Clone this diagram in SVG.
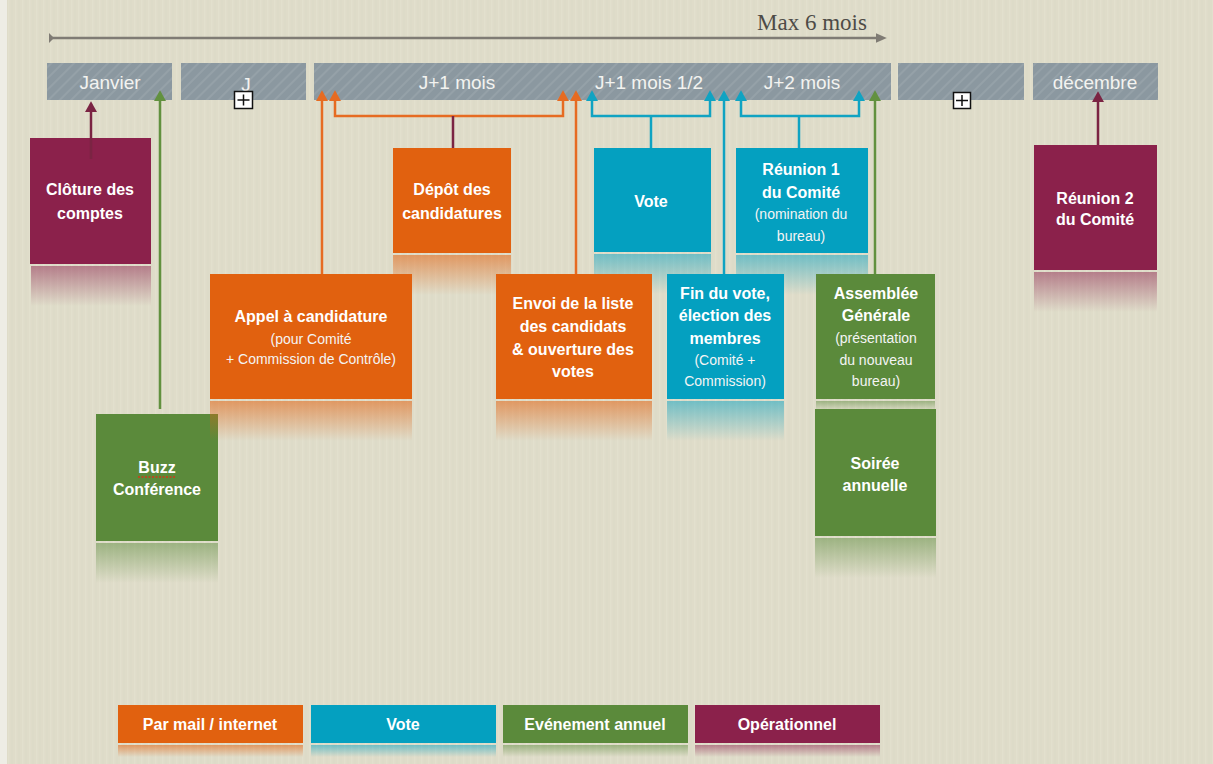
<svg xmlns="http://www.w3.org/2000/svg" width="1213" height="764" viewBox="0 0 1213 764">
<style>
.bar{fill:url(#hatch)}
.bt{font-family:"Liberation Sans",Arial,sans-serif;font-size:19px;fill:#f3f3f0;text-anchor:middle}
.tb{font-family:"Liberation Sans",Arial,sans-serif;font-size:16px;font-weight:bold;fill:#ffffff;text-anchor:middle}
.tr{font-family:"Liberation Sans",Arial,sans-serif;font-size:14px;fill:#f4f4f4;text-anchor:middle}
.or{fill:#e1610f}.bl{fill:#04a0c0}.gr{fill:#5b8a3b}.ma{fill:#8b214b}
.c{fill:none;stroke-width:2.5}
.co{stroke:#e66b22}.cb{stroke:#10a3c2}.cg{stroke:#62913f}.cm{stroke:#7b2443}
</style>
<defs>
<pattern id="tex" width="7" height="40" patternUnits="userSpaceOnUse">
<rect width="7" height="40" fill="#dfdcc9"/>
<rect x="1" width="1.5" height="40" fill="#e4e1cf" opacity="0.7"/>
<rect x="4.5" width="1" height="40" fill="#d8d5c1" opacity="0.5"/>
</pattern>
<pattern id="hatch" width="8" height="8" patternUnits="userSpaceOnUse" patternTransform="rotate(45)">
<rect width="8" height="8" fill="#8b98a0"/>
<rect width="2" height="8" fill="#95a1a8"/>
</pattern>
<linearGradient id="rO" x1="0" y1="0" x2="0" y2="1"><stop offset="0" stop-color="#e1610f" stop-opacity="0.55"/><stop offset="1" stop-color="#e1610f" stop-opacity="0"/></linearGradient>
<linearGradient id="rB" x1="0" y1="0" x2="0" y2="1"><stop offset="0" stop-color="#04a0c0" stop-opacity="0.5"/><stop offset="1" stop-color="#04a0c0" stop-opacity="0"/></linearGradient>
<linearGradient id="rG" x1="0" y1="0" x2="0" y2="1"><stop offset="0" stop-color="#5b8a3b" stop-opacity="0.5"/><stop offset="1" stop-color="#5b8a3b" stop-opacity="0"/></linearGradient>
<linearGradient id="rM" x1="0" y1="0" x2="0" y2="1"><stop offset="0" stop-color="#8b214b" stop-opacity="0.5"/><stop offset="1" stop-color="#8b214b" stop-opacity="0"/></linearGradient>
<marker id="aO" markerWidth="12" markerHeight="12" refX="0" refY="5" orient="auto-start-reverse" markerUnits="userSpaceOnUse" viewBox="0 0 10 10"><path d="M0,0 L9,5 L0,10 z" fill="#e66b22"/></marker>
<marker id="aB" markerWidth="12" markerHeight="12" refX="0" refY="5" orient="auto-start-reverse" markerUnits="userSpaceOnUse" viewBox="0 0 10 10"><path d="M0,0 L9,5 L0,10 z" fill="#10a3c2"/></marker>
<marker id="aG" markerWidth="12" markerHeight="12" refX="0" refY="5" orient="auto-start-reverse" markerUnits="userSpaceOnUse" viewBox="0 0 10 10"><path d="M0,0 L9,5 L0,10 z" fill="#62913f"/></marker>
<marker id="aM" markerWidth="12" markerHeight="12" refX="0" refY="5" orient="auto-start-reverse" markerUnits="userSpaceOnUse" viewBox="0 0 10 10"><path d="M0,0 L9,5 L0,10 z" fill="#7b2443"/></marker>
<marker id="aT" markerWidth="12" markerHeight="12" refX="0" refY="5" orient="auto" markerUnits="userSpaceOnUse" viewBox="0 0 10 10"><path d="M0,1 L9,5 L0,9 z" fill="#7f7b74"/></marker>
</defs>

<rect width="1213" height="764" fill="url(#tex)"/>
<rect width="7" height="764" fill="#eeede5"/>

<!-- timeline -->
<g id="timeline">
<line x1="51" y1="38" x2="876" y2="38" stroke="#7f7b74" stroke-width="2.5" marker-end="url(#aT)"/>
<path d="M49,33 L54,38 L49,43 z" fill="#7f7b74"/>
<text x="812" y="30" font-family="'Liberation Serif','Times New Roman',serif" font-size="23" fill="#4e4b47" text-anchor="middle">Max 6 mois</text>
</g>

<!-- header bars -->
<g id="bar-janvier"><rect class="bar" x="47" y="63" width="125" height="37"/><text class="bt" x="110" y="89">Janvier</text></g>
<g id="bar-j"><rect class="bar" x="181" y="63" width="125" height="37"/><text class="bt" x="246" y="91">J</text>
<rect x="234.5" y="91.5" width="18" height="17" fill="#ffffff" stroke="#111" stroke-width="1.5"/><path d="M237.5,100 H249.5 M243.5,94.5 V105.5" stroke="#111" stroke-width="1.5"/></g>
<g id="bar-j1"><rect class="bar" x="314" y="63" width="577" height="37"/>
<text class="bt" x="457" y="89">J+1 mois</text><text class="bt" x="649" y="89">J+1 mois 1/2</text><text class="bt" x="802" y="89">J+2 mois</text></g>
<g id="bar-blank"><rect class="bar" x="898" y="63" width="126" height="37"/>
<rect x="953.5" y="92.5" width="17" height="16" fill="#ffffff" stroke="#111" stroke-width="1.5"/><path d="M956,100.5 H968 M962,95 V106" stroke="#111" stroke-width="1.5"/></g>
<g id="bar-decembre"><rect class="bar" x="1033" y="63" width="125" height="37"/><text class="bt" x="1095" y="89">décembre</text></g>

<!-- nodes -->
<g id="n-cloture"><rect x="31" y="266" width="120" height="40" fill="url(#rM)"/><rect class="ma" x="30" y="138" width="121" height="126"/>
<text class="tb" x="90" y="195">Clôture des</text><text class="tb" x="90" y="219">comptes</text></g>

<g id="n-buzz"><rect x="96" y="543" width="122" height="40" fill="url(#rG)"/><rect class="gr" x="96" y="414" width="122" height="127"/>
<text class="tb" x="157" y="473">Buzz</text><line x1="138" y1="477" x2="176" y2="477" stroke="#d23a1a" stroke-width="1.5" stroke-dasharray="2,1.5"/>
<text class="tb" x="157" y="495">Conférence</text></g>

<g id="n-appel"><rect x="210" y="401" width="202" height="40" fill="url(#rO)"/><rect class="or" x="210" y="274" width="202" height="125"/>
<text class="tb" x="311" y="322">Appel à candidature</text><text class="tr" x="311" y="344">(pour Comité</text><text class="tr" x="311" y="364">+ Commission de Contrôle)</text></g>

<g id="n-depot"><rect x="393" y="255" width="118" height="40" fill="url(#rO)"/><rect class="or" x="393" y="148" width="118" height="105"/>
<text class="tb" x="452" y="195">Dépôt des</text><text class="tb" x="452" y="219">candidatures</text></g>

<g id="n-vote"><rect x="594" y="254" width="117" height="40" fill="url(#rB)"/><rect class="bl" x="594" y="148" width="117" height="104"/>
<text class="tb" x="651" y="207">Vote</text></g>

<g id="n-reunion1"><rect x="736" y="255" width="132" height="40" fill="url(#rB)"/><rect class="bl" x="736" y="148" width="132" height="105"/>
<text class="tb" x="801" y="175">Réunion 1</text><text class="tb" x="801" y="198">du Comité</text>
<text class="tr" x="801" y="219">(nomination du</text><text class="tr" x="801" y="241">bureau)</text></g>

<g id="n-envoi"><rect x="496" y="401" width="156" height="40" fill="url(#rO)"/><rect class="or" x="496" y="274" width="156" height="125"/>
<text class="tb" x="573" y="309">Envoi de la liste</text><text class="tb" x="573" y="332">des candidats</text>
<text class="tb" x="573" y="355">&amp; ouverture des</text><text class="tb" x="573" y="377">votes</text></g>

<g id="n-fin"><rect x="667" y="401" width="117" height="40" fill="url(#rB)"/><rect class="bl" x="667" y="274" width="117" height="125"/>
<text class="tb" x="725" y="299">Fin du vote,</text><text class="tb" x="725" y="321">élection des</text><text class="tb" x="725" y="344">membres</text>
<text class="tr" x="725" y="365">(Comité +</text><text class="tr" x="725" y="386">Commission)</text></g>

<g id="n-assemblee"><rect x="816" y="401" width="119" height="10" fill="url(#rG)"/><rect class="gr" x="816" y="274" width="119" height="125"/>
<text class="tb" x="876" y="299">Assemblée</text><text class="tb" x="876" y="321">Générale</text>
<text class="tr" x="876" y="343">(présentation</text><text class="tr" x="876" y="365">du nouveau</text><text class="tr" x="876" y="386">bureau)</text></g>

<g id="n-soiree"><rect x="815" y="538" width="121" height="40" fill="url(#rG)"/><rect class="gr" x="815" y="409" width="121" height="127"/>
<text class="tb" x="875" y="469">Soirée</text><text class="tb" x="875" y="491">annuelle</text></g>

<g id="n-reunion2"><rect x="1034" y="272" width="123" height="40" fill="url(#rM)"/><rect class="ma" x="1034" y="145" width="123" height="125"/>
<text class="tb" x="1095" y="204">Réunion 2</text><text class="tb" x="1095" y="225">du Comité</text></g>

<!-- connectors -->
<g id="connectors">
<path class="c cm" d="M91,159 V112" marker-end="url(#aM)"/>
<path class="c cg" d="M160,409 V101" marker-end="url(#aG)"/>
<path class="c co" d="M322,274 V101" marker-end="url(#aO)"/>
<path class="c co" d="M335,101 V116 H563 V101" marker-start="url(#aO)" marker-end="url(#aO)"/>
<path class="c cm" d="M453,116 V148"/>
<path class="c co" d="M576,274 V101" marker-end="url(#aO)"/>
<path class="c cb" d="M592,101 V116 H710 V101" marker-start="url(#aB)" marker-end="url(#aB)"/>
<path class="c cb" d="M651,116 V148"/>
<path class="c cb" d="M724,274 V101" marker-end="url(#aB)"/>
<path class="c cb" d="M741,101 V116 H859 V101" marker-start="url(#aB)" marker-end="url(#aB)"/>
<path class="c cb" d="M799,116 V148"/>
<path class="c cg" d="M875,274 V101" marker-end="url(#aG)"/>
<path class="c cm" d="M1098,145 V102" marker-end="url(#aM)"/>
</g>

<!-- legend -->
<g id="legend">
<g id="lg-mail"><rect x="118" y="745" width="185" height="12" fill="url(#rO)"/><rect class="or" x="118" y="705" width="185" height="38"/><text class="tb" x="210" y="730">Par mail / internet</text></g>
<g id="lg-vote"><rect x="311" y="745" width="185" height="12" fill="url(#rB)"/><rect class="bl" x="311" y="705" width="185" height="38"/><text class="tb" x="403" y="730">Vote</text></g>
<g id="lg-event"><rect x="503" y="745" width="185" height="12" fill="url(#rG)"/><rect class="gr" x="503" y="705" width="185" height="38"/><text class="tb" x="595" y="730">Evénement annuel</text></g>
<g id="lg-oper"><rect x="695" y="745" width="185" height="12" fill="url(#rM)"/><rect class="ma" x="695" y="705" width="185" height="38"/><text class="tb" x="787" y="730">Opérationnel</text></g>
</g>
</svg>
